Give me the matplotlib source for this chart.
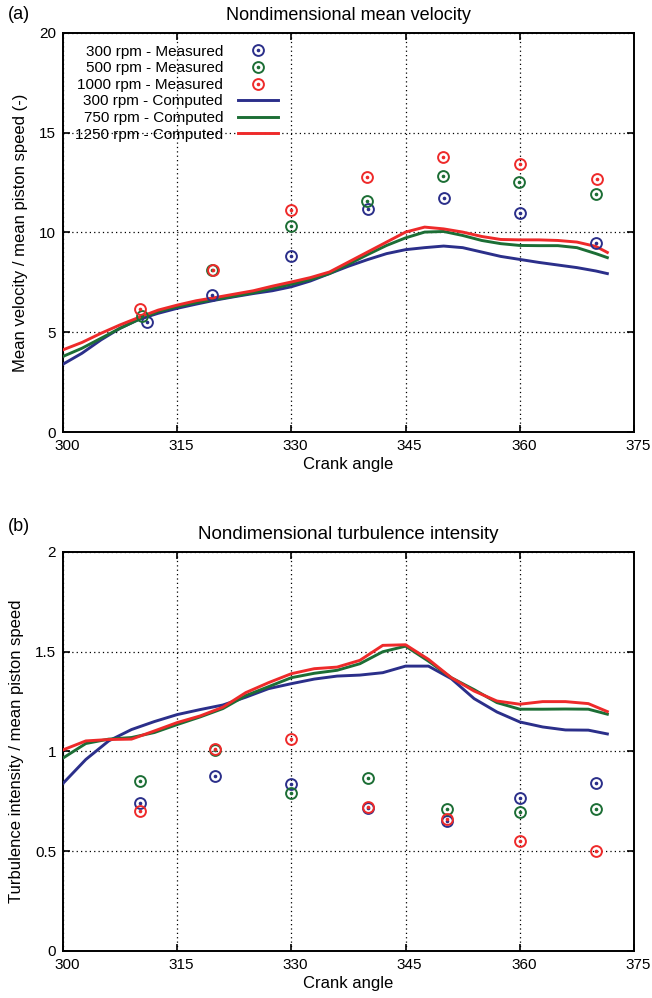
import matplotlib
matplotlib.use('Agg')
import matplotlib.pyplot as plt
import matplotlib.transforms as mtransforms
from matplotlib.legend_handler import HandlerTuple

plt.rcParams['font.family'] = ['Liberation Sans', 'DejaVu Sans']

# measured points (crank angle, value)
meas_labels = ['300 rpm - Measured', '500 rpm - Measured', '1000 rpm - Measured']
comp_labels = ['300 rpm - Computed', '750 rpm - Computed', '1250 rpm - Computed']
colors = ['#2b2f8a', '#1c6e35', '#ee2a2a']

vel_x_300 = [311.1, 319.6, 330.0, 340.0, 350.0, 360.0, 370.0]
vel_x_500 = [310.4, 319.6, 329.9, 339.9, 349.9, 359.9, 370.0]
vel_x_1000 = [310.1, 319.7, 329.9, 339.9, 349.9, 360.0, 370.1]
vel_300 = [5.52, 6.86, 8.82, 11.16, 11.73, 10.98, 9.45]
vel_500 = [5.81, 8.12, 10.32, 11.56, 12.81, 12.51, 11.94]
vel_1000 = [6.15, 8.14, 11.13, 12.79, 13.8, 13.42, 12.67]

turb_x = [310.1, 320.0, 330.0, 340.0, 350.5, 360.0, 370.0]
turb_300 = [0.743, 0.878, 0.838, 0.715, 0.653, 0.765, 0.84]
turb_500 = [0.852, 1.005, 0.793, 0.867, 0.71, 0.698, 0.71]
turb_1000 = [0.70, 1.01, 1.065, 0.723, 0.662, 0.553, 0.50]

# computed curves
vel_cx = [300, 302.5, 305, 307.5, 310, 312.5, 315, 317.5, 320, 322.5, 325, 327.5,
          330, 332.5, 335, 337.5, 340, 342.5, 345, 347.5, 350, 352.5, 355, 357.5,
          360, 362.5, 365, 367.5, 370, 371.5]
vel_c300 = [3.4, 3.95, 4.62, 5.2, 5.65, 5.95, 6.2, 6.41, 6.61, 6.78, 6.94, 7.08,
            7.28, 7.57, 7.94, 8.31, 8.64, 8.94, 9.14, 9.24, 9.32, 9.24, 9.02, 8.8,
            8.65, 8.5, 8.37, 8.24, 8.07, 7.94]
vel_c750 = [3.79, 4.2, 4.7, 5.2, 5.65, 6.03, 6.28, 6.48, 6.64, 6.81, 6.98, 7.19,
            7.41, 7.64, 7.94, 8.41, 8.89, 9.35, 9.73, 10.02, 10.05, 9.85, 9.6, 9.44,
            9.35, 9.34, 9.34, 9.24, 8.94, 8.74]
vel_c1250 = [4.12, 4.49, 4.95, 5.37, 5.75, 6.11, 6.36, 6.58, 6.74, 6.91, 7.08, 7.31,
             7.52, 7.74, 8.02, 8.52, 9.02, 9.52, 10.02, 10.27, 10.18, 10.02, 9.8, 9.65,
             9.63, 9.63, 9.6, 9.52, 9.3, 9.0]

turb_cx = [300, 303, 306, 309, 312, 315, 318, 321, 324, 327, 330, 333, 336, 339,
           342, 345, 348, 351, 354, 357, 360, 363, 366, 369, 371.5]
turb_c300 = [0.84, 0.96, 1.053, 1.11, 1.15, 1.185, 1.21, 1.233, 1.272, 1.315, 1.34,
             1.363, 1.378, 1.383, 1.395, 1.428, 1.428, 1.365, 1.265, 1.198, 1.148,
             1.123, 1.108, 1.107, 1.088]
turb_c750 = [0.967, 1.04, 1.062, 1.07, 1.095, 1.135, 1.173, 1.215, 1.28, 1.325, 1.37,
             1.392, 1.407, 1.44, 1.5, 1.528, 1.453, 1.37, 1.31, 1.245, 1.212, 1.212,
             1.213, 1.212, 1.187]
turb_c1250 = [1.008, 1.053, 1.06, 1.062, 1.103, 1.145, 1.178, 1.222, 1.295, 1.345,
              1.39, 1.415, 1.423, 1.457, 1.532, 1.535, 1.462, 1.37, 1.303, 1.253,
              1.237, 1.25, 1.25, 1.24, 1.2]

xticks = [300, 315, 330, 345, 360, 375]

fig = plt.figure(figsize=(6.52, 9.98), dpi=100)
ax1 = fig.add_axes([0.0966, 0.5671, 0.8758, 0.3999])
ax2 = fig.add_axes([0.0966, 0.0471, 0.8758, 0.3998])


def style(ax, yticks, ylabels):
    ax.set_xlim(300, 375)
    ax.set_xticks(xticks)
    ax.set_ylim(yticks[0], yticks[-1])
    ax.set_yticks(yticks)
    ax.set_yticklabels(ylabels)
    ax.grid(True, color='black', linestyle=(0, (1, 2.5)), linewidth=0.9)
    ax.tick_params(direction='in', length=5, width=1.2, top=True, right=True,
                   labelsize=11)
    ax.tick_params(axis='x', pad=5)
    ax.tick_params(axis='y', pad=5)
    shift = mtransforms.ScaledTranslation(4 / 100, 0, fig.dpi_scale_trans)
    for lab in ax.get_xticklabels():
        lab.set_transform(lab.get_transform() + shift)
    for s in ax.spines.values():
        s.set_linewidth(1.4)
    ax.set_xlabel('Crank angle', fontsize=12, labelpad=3)


def measured(ax, x, y, c):
    ring, = ax.plot(x, y, 'o', ms=7.8, mfc='none', mec=c, mew=1.4, ls='none', zorder=4)
    dot, = ax.plot(x, y, 'o', ms=1.6, mfc=c, mec=c, ls='none', zorder=4)
    return (ring, dot)


handles = []
for x, y, c in zip([vel_x_300, vel_x_500, vel_x_1000], [vel_300, vel_500, vel_1000], colors):
    handles.append(measured(ax1, x, y, c))
for y, c in zip([vel_c300, vel_c750, vel_c1250], colors):
    ln, = ax1.plot(vel_cx, y, color=c, lw=2.1, zorder=3)
    handles.append(ln)

for y, c in zip([turb_300, turb_500, turb_1000], colors):
    measured(ax2, turb_x, y, c)
for y, c in zip([turb_c300, turb_c750, turb_c1250], colors):
    ax2.plot(turb_cx, y, color=c, lw=2.1, zorder=3)

style(ax1, [0, 5, 10, 15, 20], ['0', '5', '10', '15', '20'])
style(ax2, [0, 0.5, 1, 1.5, 2], ['0', '0.5', '1', '1.5', '2'])

ax1.set_ylabel('Mean velocity / mean piston speed (-)', fontsize=12, labelpad=8)
ax2.set_ylabel('Turbulence intensity / mean piston speed', fontsize=12, labelpad=8)

ax1.set_title('Nondimensional mean velocity', fontsize=13, pad=9)
ax2.set_title('Nondimensional turbulence intensity', fontsize=13.5, pad=9)
fig.text(0.012, 0.985, '(a)', fontsize=13, va='center')
fig.text(0.012, 0.472, '(b)', fontsize=13, va='center')

ax1.legend(handles, meas_labels + comp_labels, loc='upper left',
           bbox_to_anchor=(0.021, 0.9705), frameon=False, markerfirst=False,
           fontsize=11, labelspacing=0.17, handlelength=2.6, handletextpad=1.0,
           borderpad=0, borderaxespad=0,
           handler_map={tuple: HandlerTuple(ndivide=1, pad=0)})

fig.savefig('out.png', dpi=100)
